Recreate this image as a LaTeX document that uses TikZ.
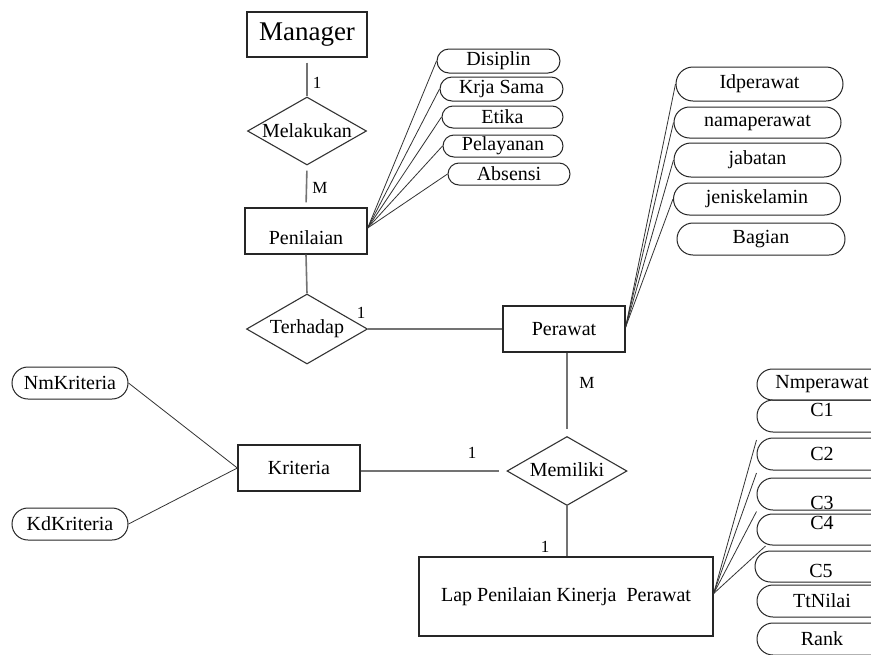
\documentclass[tikz,border=0pt]{standalone}
\usepackage{fontspec}
\setmainfont{Liberation Serif}
\usetikzlibrary{shapes.geometric,shapes.misc}
\begin{document}
\begin{tikzpicture}[x=1pt,y=-1pt,
  every node/.style={font=\fontsize{20}{22}\selectfont, text=black},
  ent/.style={draw=black!85, line width=1.3pt, rectangle, inner sep=0pt},
  rel/.style={draw=black!80, line width=1.1pt, diamond, inner sep=0pt},
  att/.style={draw=black!85, line width=1pt, rounded rectangle, inner sep=0pt},
  conn/.style={draw=black!55, line width=1.6pt},
  aline/.style={draw=black!80, line width=0.8pt},
  card/.style={inner sep=0pt, font=\fontsize{17}{19}\selectfont}
]
\clip (0,0) rectangle (871,654);
\fill[white] (0,0) rectangle (871,654);

% entities
\node[ent, minimum width=120pt, minimum height=45pt, font=\fontsize{27}{29}\selectfont] (man) at (307,34.5) {Manager};
\node[ent, minimum width=122pt, minimum height=46pt] (pen) at (306,231) {\raisebox{-13pt}[0pt][0pt]{Penilaian}};
\node[ent, minimum width=122pt, minimum height=46pt] (per) at (564,329) {Perawat};
\node[ent, minimum width=122pt, minimum height=46pt] (krit) at (299,468) {Kriteria};
\node[ent, minimum width=294pt, minimum height=79pt] (lap) at (566,596.5) {Lap Penilaian Kinerja\ \ Perawat};

% relationships
\node[rel, minimum width=119pt, minimum height=68pt] (mel) at (307,131) {\makebox[0pt]{Melakukan}};
\node[rel, minimum width=121pt, minimum height=70pt] (ter) at (307,329) {\makebox[0pt]{Terhadap}};
\node[rel, minimum width=120pt, minimum height=69pt] (mem) at (567,471) {\makebox[0pt]{\raisebox{2pt}{Memiliki}}};

% Penilaian attributes
\node[att, minimum width=123pt, minimum height=24pt] (dis) at (498.5,61) {Disiplin};
\node[att, minimum width=123pt, minimum height=24pt] (krj) at (501.5,89) {Krja Sama};
\node[att, minimum width=121pt, minimum height=22pt] (eti) at (502.5,117) {Etika};
\node[att, minimum width=120pt, minimum height=22pt] (pel) at (503,146) {Pelayanan};
\node[att, minimum width=122pt, minimum height=22pt] (abs) at (509,174) {Absensi};

% Perawat attributes
\node[att, minimum width=167pt, minimum height=34pt] (idp) at (759.5,84) {Idperawat};
\node[att, minimum width=167pt, minimum height=31pt] (nmp) at (757.5,122.5) {namaperawat};
\node[att, minimum width=167pt, minimum height=34pt] (jab) at (757.5,160) {jabatan};
\node[att, minimum width=167pt, minimum height=32pt] (jen) at (757,199) {jeniskelamin};
\node[att, minimum width=168pt, minimum height=32pt] (bag) at (761,239) {Bagian};

% Kriteria attributes
\node[att, minimum width=116pt, minimum height=32pt] (nmk) at (70,383) {NmKriteria};
\node[att, minimum width=116pt, minimum height=32pt] (kdk) at (70,524) {KdKriteria};

% Lap attributes
\node[att, minimum width=130pt, minimum height=31pt] (nmw) at (822,384.5) {Nmperawat};
\node[att, minimum width=130pt, minimum height=32pt] (c1) at (822,416) {\raisebox{0pt}[0pt][0pt]{C1}};
\node[att, minimum width=130pt, minimum height=32pt] (c2) at (822,454) {C2};
\node[att, minimum width=130pt, minimum height=32pt] (c3) at (822,494) {\raisebox{-15pt}[0pt][0pt]{C3}};
\node[att, minimum width=130pt, minimum height=31pt] (c4) at (822,529.5) {\raisebox{0pt}[0pt][0pt]{C4}};
\node[att, minimum width=132pt, minimum height=31pt] (c5) at (821,566.5) {\raisebox{-10.5pt}[0pt][0pt]{C5}};
\node[att, minimum width=130pt, minimum height=32pt] (ttn) at (822,601) {TtNilai};
\node[att, minimum width=130pt, minimum height=32pt] (rnk) at (822,639) {Rank};

% relationship connectors
\draw[conn, shorten <=5pt] (man.south) -- (mel.north);
\draw[conn, shorten <=5pt, shorten >=5pt] (mel.south) -- (pen.north);
\draw[conn] (pen.south) -- (ter.north);
\draw[conn] (ter.east) -- (per.west);
\draw[conn, shorten >=7pt] (mem.north |- per.south) -- (mem.north);
\draw[conn, shorten >=7pt] (krit.east |- mem.west) -- (mem.west);
\draw[conn] (mem.south) -- (mem.south |- lap.north);

% cardinalities
\node[card] (k1) at (317,83) {1};
\node[card] (k2) at (320,188) {M};
\node[card] (k3) at (361,313) {1};
\node[card] (k4) at (587,383) {M};
\node[card] (k5) at (472,453) {1};
\node[card] (k6) at (545,547) {1};

% attribute connectors
\coordinate (penR) at ([yshift=3pt]pen.east);
\foreach \a in {dis,krj,eti,pel,abs} \draw[aline] (penR) -- (\a.west);
\coordinate (perR) at ([yshift=2pt]per.east);
\foreach \a in {idp,nmp,jab,jen} \draw[aline] (perR) -- (\a.west);
\draw[aline] (nmk.east) -- (krit.west);
\draw[aline] (kdk.east) -- (krit.west);
\coordinate (lapR) at ([yshift=3pt]lap.east);
\draw[aline] (lapR) -- ([yshift=14pt]c2.west);
\draw[aline] (lapR) -- ([yshift=21pt]c3.west);
\draw[aline] (lapR) -- ([yshift=18pt]c4.west);
\draw[aline] (lapR) -- ([shift={(11pt,20.5pt)}]c5.west);
\end{tikzpicture}
\end{document}
